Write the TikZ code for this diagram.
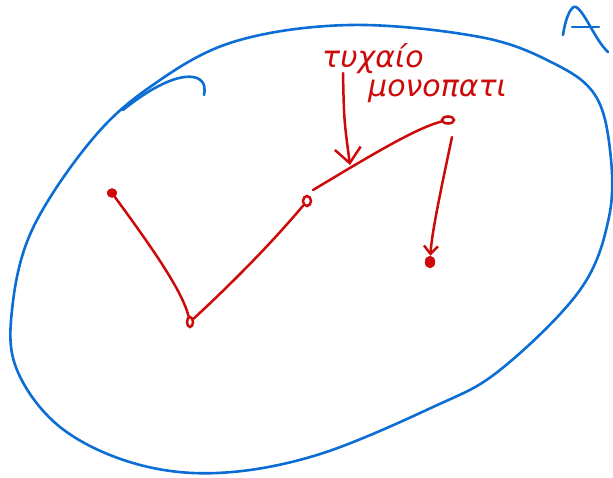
\documentclass[tikz,border=0pt]{standalone}
\usepackage{fontspec}
\newfontfamily\grfont{DejaVu Sans}
\usetikzlibrary{arrows.meta}
\definecolor{penblue}{RGB}{12,110,212}
\definecolor{penred}{RGB}{204,10,10}
\tikzset{
  blueink/.style={draw=penblue, line width=2.6pt, line cap=round, line join=round},
  redink/.style={draw=penred, line width=2.5pt, line cap=round, line join=round},
  dotnode/.style={ellipse, draw=penred, line width=2.5pt, inner sep=0pt, minimum width=8pt, minimum height=10pt},
  blobnode/.style={ellipse, draw=penred, fill=penred, inner sep=0pt, minimum width=10pt, minimum height=9pt},
  labeltext/.style={text=penred, font=\grfont\fontsize{30}{32}\selectfont\itshape, inner sep=0pt, anchor=base west}
}
\usetikzlibrary{shapes.geometric}
\begin{document}
\begin{tikzpicture}[x=1pt,y=-1pt]
\useasboundingbox (0,0) rectangle (613,477);
% set A boundary
\draw[blueink] plot[smooth cycle, tension=0.6] coordinates {
 (90,142) (150,87) (233,42) (350,25) (480,37) (553,63) (595,95) (610,150)
 (609,217) (580,290) (500,370) (433,407) (317,455) (217,473) (133,463)
 (60,427) (17,370) (12,310) (32,230)};
% stray hook stroke
\draw[blueink] (123,110) .. controls (150,88) and (180,72) .. (197,78) .. controls (206,82) and (205,90) .. (204,95);
% letter A
\draw[blueink] (563,35) .. controls (566,15) and (572,5) .. (576,7) .. controls (585,12) and (595,40) .. (608,52);
\draw[blueink] (572,27) -- (599,27);
% path points
\node[blobnode] (p1) at (112,193) {};
\node[dotnode, minimum width=6pt, minimum height=10pt] (p2) at (190,322) {};
\node[dotnode] (p3) at (307,201) {};
\node[dotnode, minimum width=12pt, minimum height=7pt] (p4) at (448,120) {};
\node[blobnode, minimum width=10pt, minimum height=12pt] (p5) at (430,262) {};
% path segments
\draw[redink] (p1) .. controls (150,245) and (182,290) .. (p2);
\draw[redink] (p2) .. controls (230,285) and (270,245) .. (p3);
\draw[redink] (313,190) .. controls (360,162) and (415,128) .. (p4);
\draw[redink, -{Straight Barb[length=8pt,width=14pt]}] (452,137) .. controls (443,180) and (432,230) .. (p5);
% label
\node[labeltext] (t1) at (322,67) {τυχαίο};
\node[labeltext] (t2) at (368,96) {μονοπατι};
\coordinate (a0) at (343,73);
\coordinate (a1) at (350,165);
\draw[redink, -{Straight Barb[length=15pt,width=26pt]}] (a0) .. controls (344,120) .. (a1);
\end{tikzpicture}
\end{document}
